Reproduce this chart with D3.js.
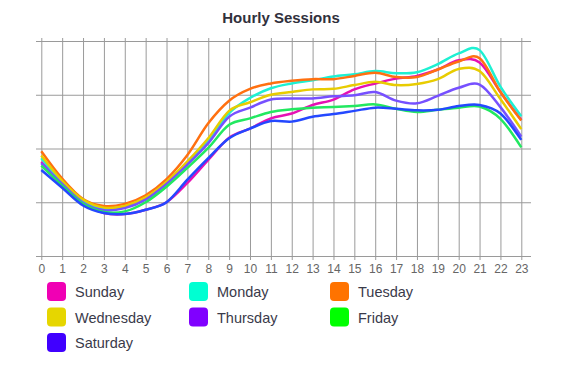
<!DOCTYPE html>
<html>
<head>
<meta charset="utf-8">
<script src="https://cdn.jsdelivr.net/npm/d3@7"></script>
<style>
  html, body { margin: 0; padding: 0; background: #fff; }
  svg { display: block; }
</style>
</head>
<body>
<svg id="chart" width="571" height="365"></svg>
<script>
const hours = d3.range(0, 24);
const tickLabels = hours.map(String);
const seriesNames = ["Sunday", "Monday", "Tuesday", "Wednesday", "Thursday", "Friday", "Saturday"];
const legendColors = ["#f000b4", "#00ffd2", "#ff7300", "#e6d600", "#8000ff", "#00ff00", "#4000ff"];
const lineColors = ["#e610b4", "#1ef0d2", "#ff7010", "#e8cc00", "#7650ff", "#22e860", "#2448ff"];

const sunday    = [175,134,98,80,78,86,100,136,179,220,237,256,265,281,291,310,321,330,335,347,364,360,305,253];
const monday    = [182,138,103,88,92,106,136,173,216,266,294,312,321,327,334,338,344,340,342,357,377,383,315,260];
const tuesday   = [195,144,106,93,97,113,143,188,247,289,311,321,326,329,329,335,341,333,333,347,362,368,305,252];
const wednesday = [187,140,105,90,93,109,138,176,219,270,286,300,305,310,311,318,324,318,320,329,348,344,292,236];
const thursday  = [173,134,99,85,89,105,134,170,210,259,276,291,293,293,297,299,305,289,284,298,313,319,277,222];
const friday    = [168,131,97,82,83,100,129,164,201,244,256,268,273,276,277,279,282,274,268,272,276,278,255,202];
const saturday  = [160,127,94,80,78,86,100,142,182,219,237,251,250,259,264,270,276,274,271,272,279,281,265,216];
const yTicks = [0, 100, 200, 300, 400];

const seriesValues = [sunday, monday, tuesday, wednesday, thursday, friday, saturday];

const svg = d3.select("#chart");
const font = "'Liberation Sans', Helvetica, Arial, sans-serif";

const x = d3.scaleLinear().domain([0, 23]).range([41.3, 521.3]);
const y = d3.scaleLinear().domain([0, 400]).range([256, 41]);
const gridLeft = 36, gridRight = 531;

// Title
svg.append("text")
  .attr("x", 281).attr("y", 23)
  .attr("text-anchor", "middle")
  .attr("font-family", font)
  .attr("font-weight", "bold")
  .attr("font-size", 15)
  .attr("fill", "#30303c")
  .text("Hourly Sessions");

// Horizontal grid
const gy = svg.append("g")
  .attr("transform", `translate(${gridLeft},0)`)
  .call(d3.axisLeft(y).tickValues(yTicks).tickSize(-(gridRight - gridLeft)).tickFormat(""));
gy.select(".domain").remove();
gy.selectAll(".tick line").attr("stroke", "#9a9a9a").attr("stroke-width", 1);

// Vertical grid + x labels
const gx = svg.append("g")
  .attr("transform", `translate(0,260)`)
  .call(d3.axisBottom(x).tickValues(hours).tickSize(-(260 - 38)).tickPadding(4).tickFormat((d, i) => tickLabels[i]));
gx.select(".domain").remove();
gx.selectAll(".tick line").attr("stroke", "#9a9a9a").attr("stroke-width", 1);
gx.selectAll(".tick text")
  .attr("font-family", font)
  .attr("font-size", 12)
  .attr("fill", "#666");

// Lines
const line = d3.line()
  .x((d, i) => x(hours[i]))
  .y(d => y(d))
  .curve(d3.curveCardinal.tension(0));

svg.append("g").selectAll("path")
  .data(seriesValues)
  .join("path")
  .attr("d", d => line(d))
  .attr("fill", "none")
  .attr("stroke", (d, i) => lineColors[i])
  .attr("stroke-width", 2.5)
  .attr("stroke-linejoin", "round");

// Legend
const legendX = [47, 189, 330];
const legendY = [282, 307.5, 333];
const leg = svg.append("g").selectAll("g")
  .data(seriesNames)
  .join("g")
  .attr("transform", (d, i) => `translate(${legendX[i % 3]},${legendY[Math.floor(i / 3)]})`);
leg.append("rect")
  .attr("width", 19).attr("height", 19)
  .attr("rx", 4).attr("ry", 4)
  .attr("fill", (d, i) => legendColors[i]);
leg.append("text")
  .attr("x", 28).attr("y", 15)
  .attr("font-family", font)
  .attr("font-size", 14.5)
  .attr("fill", "#3a3a4a")
  .text(d => d);
</script>
</body>
</html>
